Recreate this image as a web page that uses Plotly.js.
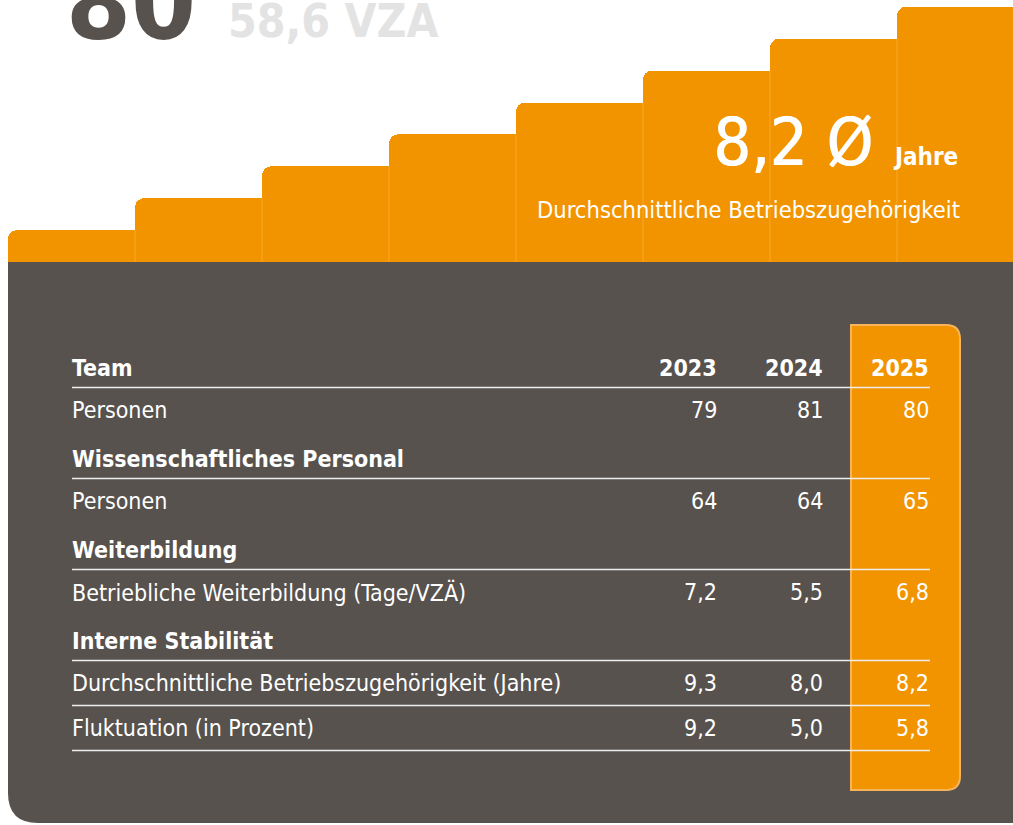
<!DOCTYPE html>
<html><head><meta charset="utf-8">
<script src="https://cdn.plot.ly/plotly-3.0.1.min.js"></script>
<style>html,body{margin:0;padding:0;background:#fff;overflow:hidden}#chart{width:1013px;height:825px}</style>
</head><body><div id="chart"></div>
<script>
// ---- data ----
const stairLevels = [1, 2, 3, 4, 5, 6, 7, 8];
const stairLabels = ['s1','s2','s3','s4','s5','s6','s7','s8'];
const years = ['2023', '2024', '2025'];
const rowLabels = ['Team', 'Personen', 'Wissenschaftliches Personal', 'Personen', 'Weiterbildung',
  'Betriebliche Weiterbildung (Tage/VZÄ)', 'Interne Stabilität',
  'Durchschnittliche Betriebszugehörigkeit (Jahre)', 'Fluktuation (in Prozent)'];
const rowIsHeader = [true, false, true, false, true, false, true, false, false];
const rowDecimals = [0, 0, 0, 0, 0, 1, 0, 1, 1];
const values2023 = [null, 79, null, 64, null, 7.2, null, 9.3, 9.2];
const values2024 = [null, 81, null, 64, null, 5.5, null, 8.0, 5.0];
const values2025 = [null, 80, null, 65, null, 6.8, null, 8.2, 5.8];
const headcount = '80';
const fte = '58,6 VZA';
const kpiValue = '8,2 Ø';
const kpiUnit = 'Jahre';
const kpiLabel = 'Durchschnittliche Betriebszugehörigkeit';

// ---- style ----
const W = 1013, H = 825;
const ORANGE = '#f29400', DARK = '#57524e', WHITE = '#ffffff';
const FONT = '"DejaVu Sans Condensed", "Liberation Sans Narrow", Roboto, sans-serif';
const panelTop = 262, panelLeft = 8;
const stepW = 127, stepH = 31.9;

const fmt = (v, d) => v == null ? '' : (d ? v.toFixed(d).replace('.', ',') : String(v));

// row y positions (pixels)
const rowY = [];
let y = 368;
rowLabels.forEach((r, i) => {
  if (i > 0) {
    if (rowIsHeader[i]) y += 49;
    else if (rowIsHeader[i - 1]) y += 42;
    else y += 45;
  }
  rowY.push(y);
});

const px = v => v / W, py = v => 1 - v / H;

const shapes = [];
// dark panel with rounded bottom-left corner
const r = 30, pb = 823;
shapes.push({
  type: 'path', xref: 'paper', yref: 'paper', layer: 'below',
  path: `M ${px(panelLeft)},${py(panelTop)} L ${px(W + 20)},${py(panelTop)} L ${px(W + 20)},${py(pb)} L ${px(panelLeft + r)},${py(pb)} Q ${px(panelLeft)},${py(pb)} ${px(panelLeft)},${py(pb - r)} Z`,
  fillcolor: DARK, line: { width: 0 }
});
// highlighted 2025 column
const cx0 = 851, cx1 = 960, cy0 = 325, cy1 = 790, cr = 14;
shapes.push({
  type: 'path', xref: 'paper', yref: 'paper', layer: 'below',
  path: `M ${px(cx0)},${py(cy0)} L ${px(cx1 - cr)},${py(cy0)} Q ${px(cx1)},${py(cy0)} ${px(cx1)},${py(cy0 + cr)} L ${px(cx1)},${py(cy1 - cr)} Q ${px(cx1)},${py(cy1)} ${px(cx1 - cr)},${py(cy1)} L ${px(cx0)},${py(cy1)} Z`,
  fillcolor: ORANGE, line: { width: 2, color: '#f7b45a' }
});
// faint separators between stair steps
stairLevels.forEach((v, i) => {
  if (i === 0) return;
  shapes.push({
    type: 'line', xref: 'x', yref: 'y', layer: 'above',
    x0: i - 0.5, x1: i - 0.5, y0: 0, y1: stairLevels[i - 1],
    line: { color: 'rgba(255,200,120,0.35)', width: 1 }
  });
});
// rules
rowLabels.forEach((lab, i) => {
  let ly = null;
  if (rowIsHeader[i]) ly = rowY[i] + 19.5;
  else if (i === rowLabels.length - 1 || !rowIsHeader[i + 1]) ly = rowY[i] + 22.5;
  if (ly != null) shapes.push({
    type: 'line', xref: 'paper', yref: 'paper', layer: 'below',
    x0: px(72), x1: px(930), y0: py(ly), y1: py(ly),
    line: { color: '#eeeeee', width: 1.5 }
  });
});

const annotations = [];
const ann = (text, x, yy, size, opts = {}) => annotations.push(Object.assign({
  text, x: px(x), y: py(yy), xref: 'paper', yref: 'paper', showarrow: false,
  xanchor: 'left', yanchor: 'middle',
  font: { family: FONT, size, color: WHITE }
}, opts));

const colRight = [717, 823, 929];
const cols = [values2023, values2024, values2025];
rowLabels.forEach((lab, i) => {
  ann(lab, 70, rowY[i], 23, { font: { family: FONT, size: 23, color: WHITE, weight: rowIsHeader[i] ? 'bold' : 'normal' } });
  if (i === 0) {
    years.forEach((yr, k) => ann(yr, colRight[k] + 2, rowY[i], 23, { xanchor: 'right', font: { family: FONT, size: 23, color: WHITE, weight: 'bold' } }));
  } else if (!rowIsHeader[i]) {
    cols.forEach((c, k) => ann(fmt(c[i], rowDecimals[i]), colRight[k] + 2, rowY[i], 23, { xanchor: 'right' }));
  }
});

// top texts
ann(headcount, 64, 66, 104, { yanchor: 'bottom', font: { family: FONT, size: 104, color: DARK, weight: 'bold' } });
ann(fte, 226, 21, 46, { font: { family: FONT, size: 46, color: '#e3e3e3', weight: 'bold' } });
ann(kpiValue, 875, 142, 66, { xanchor: 'right', font: { family: FONT, size: 66, color: WHITE, shadow: '1px 0px 0px #ffffff' } });
ann(kpiUnit, 891, 157, 24, { font: { family: FONT, size: 24, color: WHITE, weight: 'bold' } });
ann(kpiLabel, 962, 210, 23.5, { xanchor: 'right', font: { family: FONT, size: 23.5, color: WHITE } });

// stair bars
const xr0 = (0 - panelLeft) / stepW - 0.5, xr1 = (W - panelLeft) / stepW - 0.5;
const xi = stairLevels.map((v, i) => i);
const traces = [
  { type: 'bar', x: xi, y: stairLevels, width: 1, text: stairLabels, hoverinfo: 'skip', textposition: 'none',
    marker: { color: ORANGE, cornerradius: 9, line: { width: 0 } }, xaxis: 'x', yaxis: 'y' },
  { type: 'bar', x: xi, y: stairLevels, width: 0.5, offset: 0, hoverinfo: 'skip', textposition: 'none',
    marker: { color: ORANGE, line: { width: 0 } }, xaxis: 'x', yaxis: 'y' }
];

const layout = {
  width: W, height: H, margin: { l: 0, r: 0, t: 0, b: 0 },
  paper_bgcolor: '#ffffff', plot_bgcolor: 'rgba(0,0,0,0)',
  showlegend: false, barmode: 'overlay', bargap: 0,
  xaxis: { range: [xr0, xr1], visible: false, fixedrange: true },
  yaxis: { domain: [py(panelTop), 1], range: [0, panelTop / stepH], visible: false, fixedrange: true },
  shapes, annotations
};
Plotly.newPlot('chart', traces, layout, { staticPlot: true, displayModeBar: false });
</script></body></html>
